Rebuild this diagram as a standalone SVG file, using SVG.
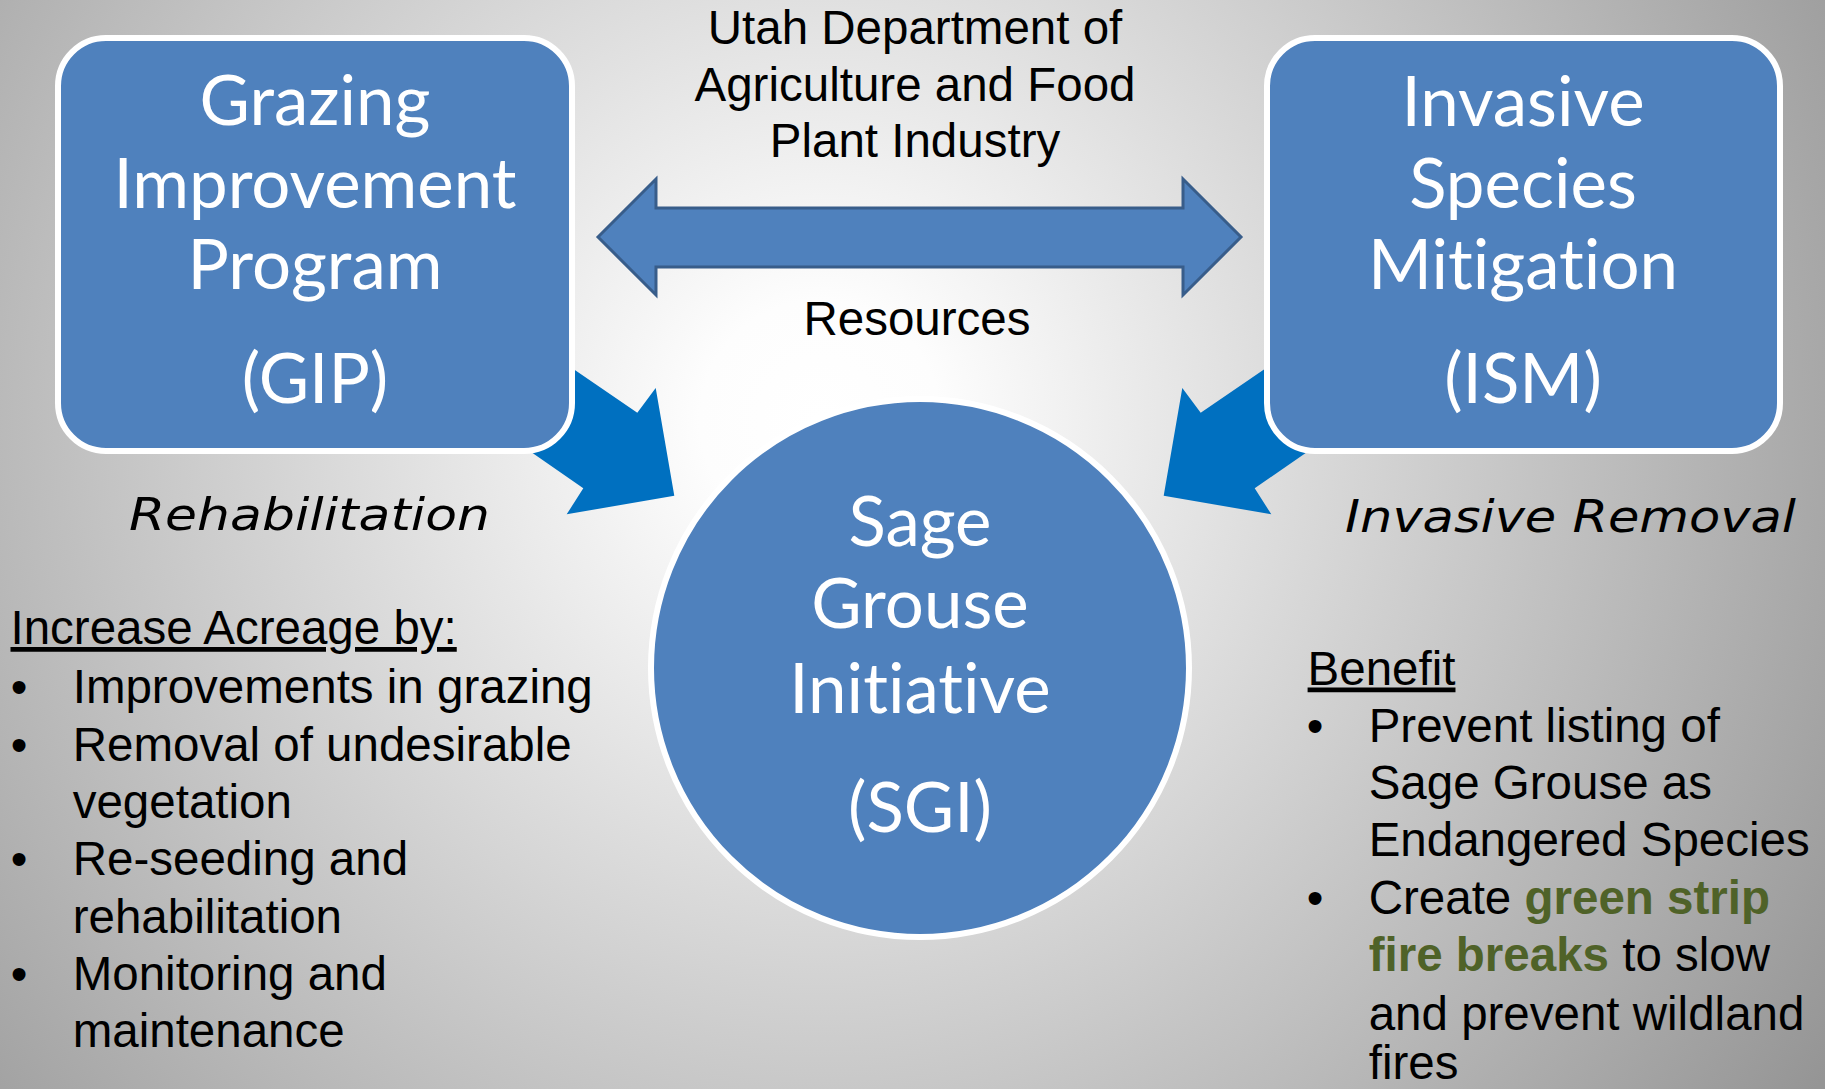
<svg xmlns="http://www.w3.org/2000/svg" width="1825" height="1089" viewBox="0 0 1825 1089">
  <defs>
    <radialGradient id="bg" gradientUnits="userSpaceOnUse" cx="820" cy="420" r="1200">
      <stop offset="0" stop-color="#ffffff"/>
      <stop offset="0.1" stop-color="#fdfdfd"/>
      <stop offset="1" stop-color="#959595"/>
    </radialGradient>
  </defs>
  <style>
    .node { fill: #4F81BD; stroke: #ffffff; stroke-width: 6; }
    .ntext { font-family: Lato, "Open Sans", sans-serif; font-size: 69px; fill: #ffffff; text-anchor: middle; font-variant-ligatures: none; }
    .arial { font-family: "Liberation Sans", Arial, sans-serif; font-size: 47.5px; fill: #000000; }
    .mid { text-anchor: middle; }
    .ital { font-family: "DejaVu Sans", sans-serif; font-style: oblique; font-size: 45px; fill: #000000; }
    .blk { fill: #0070C0; }
    .dbl { fill: #4F81BD; stroke: #385D8A; stroke-width: 3; stroke-linejoin: miter; }
    .green { fill: #4F6228; font-weight: bold; }
    .ul { text-decoration: underline; }
  </style>
  <rect x="0" y="0" width="1825" height="1089" fill="url(#bg)"/>

  <g id="connectors">
    <polygon id="arrow-resources" class="dbl" points="598,237 656,179 656,208 1183,208 1183,179 1241,237 1183,295 1183,267 656,267 656,295"/>
    <polygon id="arrow-gip-sgi" class="blk" points="480,305 637.3,412.7 655.7,388 674.3,495.7 566.7,514.3 583.3,488.3 440,389"/>
    <polygon id="arrow-ism-sgi" class="blk" points="1358,305 1200.7,412.7 1182.3,388 1163.7,495.7 1271.3,514.3 1254.7,488.3 1398,389"/>
  </g>

  <g id="label-udaf">
    <text class="arial mid" x="915" y="43.5">Utah Department of</text>
    <text class="arial mid" x="915" y="100.5">Agriculture and Food</text>
    <text class="arial mid" x="915" y="157">Plant Industry</text>
  </g>
  <g id="label-resources">
    <text class="arial mid" x="917" y="335">Resources</text>
  </g>

  <g id="node-gip">
    <rect class="node" x="58" y="38" width="514" height="413" rx="48" ry="48"/>
    <text class="ntext" x="315" y="125">Grazing</text>
    <text class="ntext" x="315" y="208">Improvement</text>
    <text class="ntext" x="315" y="288.5">Program</text>
    <text class="ntext" x="315" y="403">(GIP)</text>
  </g>

  <g id="node-ism">
    <rect class="node" x="1267" y="38" width="513" height="413" rx="48" ry="48"/>
    <text class="ntext" x="1523" y="126">Invasive</text>
    <text class="ntext" x="1523" y="207.5">Species</text>
    <text class="ntext" x="1523" y="288.5">Mitigation</text>
    <text class="ntext" x="1523" y="403">(ISM)</text>
  </g>

  <g id="node-sgi">
    <circle class="node" cx="920" cy="668" r="269"/>
    <text class="ntext" x="920" y="546">Sage</text>
    <text class="ntext" x="920" y="628">Grouse</text>
    <text class="ntext" x="920" y="713">Initiative</text>
    <text class="ntext" x="920" y="832">(SGI)</text>
  </g>

  <g id="label-rehab">
    <text class="ital" x="129" y="529.5" textLength="361" lengthAdjust="spacingAndGlyphs">Rehabilitation</text>
  </g>
  <g id="label-invasive-removal">
    <text class="ital" x="1345" y="532" textLength="451" lengthAdjust="spacingAndGlyphs">Invasive Removal</text>
  </g>

  <g id="list-left">
    <text class="arial ul" x="10.5" y="644">Increase Acreage by:</text>
    <text class="arial" x="10.7" y="703">•</text>
    <text class="arial" x="72.7" y="703">Improvements in grazing</text>
    <text class="arial" x="10.7" y="760.5">•</text>
    <text class="arial" x="72.7" y="760.5">Removal of undesirable</text>
    <text class="arial" x="72.7" y="818">vegetation</text>
    <text class="arial" x="10.7" y="875">•</text>
    <text class="arial" x="72.7" y="875">Re-seeding and</text>
    <text class="arial" x="72.7" y="932.5">rehabilitation</text>
    <text class="arial" x="10.7" y="990">•</text>
    <text class="arial" x="72.7" y="990">Monitoring and</text>
    <text class="arial" x="72.7" y="1047">maintenance</text>
  </g>

  <g id="list-right">
    <text class="arial ul" x="1307.6" y="684.5">Benefit</text>
    <text class="arial" x="1306.7" y="741.5">•</text>
    <text class="arial" x="1368.7" y="741.5">Prevent listing of</text>
    <text class="arial" x="1368.7" y="799">Sage Grouse as</text>
    <text class="arial" x="1368.7" y="856">Endangered Species</text>
    <text class="arial" x="1306.7" y="913.5">•</text>
    <text class="arial" x="1368.7" y="913.5">Create <tspan class="green">green strip</tspan></text>
    <text class="arial" x="1368.7" y="971"><tspan class="green">fire breaks</tspan> to slow</text>
    <text class="arial" x="1368.7" y="1029.5">and prevent wildland</text>
    <text class="arial" x="1368.7" y="1079">fires</text>
  </g>
</svg>
